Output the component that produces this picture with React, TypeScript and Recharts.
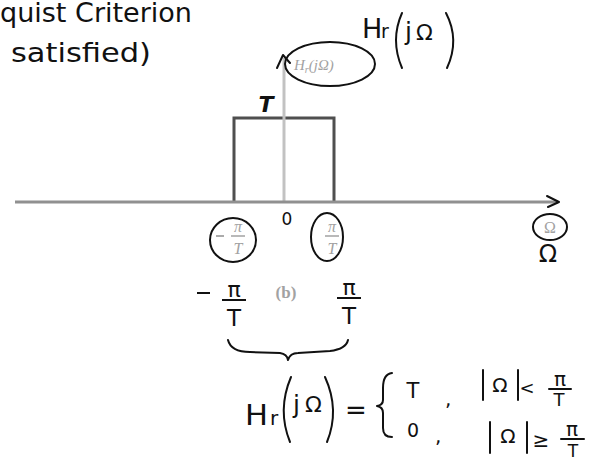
import { ComposedChart, Line, XAxis, YAxis, ReferenceLine } from "recharts"

// Ideal reconstruction filter: frequency in units of π/T, gain in units of T
const omega = [-1, -1, 1, 1]
const gain = [0, 1, 1, 0]
const cutoffTicks = [-1, 0, 1]
const cutoffLabels = ["−π/T", "0", "π/T"]
const freqDomain = [-5.38, 5.48]
const gainDomain = [0, 1.714]

const data = omega.map((w, i) => ({ omega: w, gain: gain[i] }))

const hand = "'DejaVu Sans', sans-serif"
const print = "'Liberation Serif', serif"
const ink = "#111"
const faint = "#a2a2a2"

// printed fraction (grey) inside a hand-drawn circle, plus the hand-written copy below
function CutoffTick({ x, y, payload, index }: any) {
  const label = cutoffLabels[index] ?? String(payload.value)
  if (payload.value === 0) {
    return (
      <text x={x + 3} y={y + 23} textAnchor="middle" fontFamily={hand} fontSize={17} fill={ink}>
        {label}
      </text>
    )
  }
  const neg = label.startsWith("−")
  const [num, den] = label.replace("−", "").split("/")
  const c = neg ? { ex: -1, ey: 38, rx: 23, ry: 22, fx: 4, hx: 0, hy: 0 } : { ex: -7, ey: 35, rx: 16, ry: 24, fx: -2, hx: 15, hy: -2 }
  return (
    <g>
      <ellipse cx={x + c.ex} cy={y + c.ey} rx={c.rx} ry={c.ry} fill="none" stroke={ink} strokeWidth={2} />
      {neg && <line x1={x - 18} x2={x - 10} y1={y + 34} y2={y + 34} stroke={faint} strokeWidth={1.8} />}
      <text x={x + c.fx} y={y + 30} textAnchor="middle" fontFamily={print} fontStyle="italic" fontSize={16} fill={faint}>{num}</text>
      <line x1={x + c.fx - 7} x2={x + c.fx + 7} y1={y + 34} y2={y + 34} stroke={faint} strokeWidth={1.5} />
      <text x={x + c.fx} y={y + 52} textAnchor="middle" fontFamily={print} fontStyle="italic" fontSize={16} fill={faint}>{den}</text>

      {neg && <line x1={x - 37} x2={x - 24} y1={y + 91} y2={y + 91} stroke={ink} strokeWidth={2} />}
      <text x={x + c.hx} y={y + 95 + c.hy} textAnchor="middle" fontFamily={hand} fontSize={22} fill={ink}>{num}</text>
      <line x1={x + c.hx - 12} x2={x + c.hx + 12} y1={y + 98 + c.hy} y2={y + 98 + c.hy} stroke={ink} strokeWidth={2} />
      <text x={x + c.hx} y={y + 124 + c.hy} textAnchor="middle" fontFamily={hand} fontSize={23} fill={ink}>{den}</text>
    </g>
  )
}

function Notes() {
  const t = { fontFamily: hand, fill: ink }
  const s = { fill: "none", stroke: ink, strokeWidth: 2, strokeLinecap: "round" as const, strokeLinejoin: "round" as const }
  return (
    <svg width={594} height={460} style={{ position: "absolute", left: 0, top: 0, pointerEvents: "none" }}>
      <text {...t} x={0} y={22} fontSize={26} textLength={192} lengthAdjust="spacingAndGlyphs">quist Criterion</text>
      <text {...t} x={11} y={62} fontSize={27} textLength={140} lengthAdjust="spacingAndGlyphs">satisfied)</text>

      {/* arrow tip of the gain axis and the circled axis name */}
      <path {...s} d="M277,68 L283,55 L290,63" />
      <ellipse {...s} cx={330} cy={64} rx={45} ry={22} />
      <text x={294} y={70} fontFamily={print} fontStyle="italic" fontSize={15} fill={faint}>
        H<tspan fontSize={10} dy={3}>r</tspan><tspan dy={-3}>(jΩ)</tspan>
      </text>
      <text {...t} x={362} y={38} fontSize={27}>H</text>
      <text {...t} x={381} y={38} fontSize={19}>r</text>
      <path {...s} d="M402,13 Q390,40 402,68" />
      <text {...t} x={405} y={40} fontSize={25}>j</text>
      <text {...t} x={416} y={40} fontSize={22}>Ω</text>
      <path {...s} d="M446,13 Q460,40 447,68" />

      <text x={266} y={112} textAnchor="middle" fontFamily={hand} fontWeight="bold" fontStyle="italic" fontSize={22} fill={ink}>T</text>

      {/* frequency axis arrow and label */}
      <path {...s} d="M547,196 L559,202 L548,207" />
      <ellipse {...s} cx={550} cy={227} rx={17} ry={13} />
      <text x={550} y={233} textAnchor="middle" fontFamily={print} fontSize={16} fill={faint}>Ω</text>
      <text {...t} x={548} y={262} textAnchor="middle" fontSize={24}>Ω</text>

      <text x={286} y={298} textAnchor="middle" fontFamily={print} fontWeight="bold" fontSize={17} fill={faint}>(b)</text>

      {/* pass band brace */}
      <path {...s} d="M228,340 Q231,352 250,352 L280,353 Q287,354 288,360 Q290,353 298,353 L330,351 Q346,349 348,340" />

      {/* definition */}
      <text {...t} x={245} y={425} fontSize={29} textLength={23} lengthAdjust="spacingAndGlyphs">H</text>
      <text {...t} x={270} y={425} fontSize={20}>r</text>
      <path {...s} d="M291,377 Q277,410 290,442" />
      <text {...t} x={293} y={413} fontSize={25}>j</text>
      <text {...t} x={305} y={412} fontSize={22}>Ω</text>
      <path {...s} d="M325,377 Q340,410 327,442" />
      <text {...t} x={345} y={419} fontSize={26}>=</text>
      <path {...s} d="M392,373 Q383,374 383,388 L383,400 Q383,405 377,406 Q383,407 383,413 L383,428 Q383,437 392,437" />
      <text {...t} x={413} y={398} textAnchor="middle" fontSize={21}>T</text>
      <text {...t} x={445} y={406} fontSize={20}>,</text>
      <text {...t} x={413} y={437} textAnchor="middle" fontSize={19}>0</text>
      <text {...t} x={435} y={443} fontSize={20}>,</text>

      <line {...s} x1={483} x2={483} y1={370} y2={400} />
      <text {...t} x={500} y={392} textAnchor="middle" fontSize={20}>Ω</text>
      <line {...s} x1={518} x2={518} y1={370} y2={400} />
      <text {...t} x={527} y={394} textAnchor="middle" fontSize={18}>&lt;</text>
      <text {...t} x={560} y={386} textAnchor="middle" fontSize={20}>π</text>
      <line {...s} x1={549} x2={571} y1={389} y2={389} />
      <text {...t} x={559} y={406} textAnchor="middle" fontSize={18}>T</text>

      <line {...s} x1={490} x2={490} y1={422} y2={453} />
      <text {...t} x={508} y={443} textAnchor="middle" fontSize={20}>Ω</text>
      <line {...s} x1={527} x2={527} y1={422} y2={453} />
      <text {...t} x={541} y={447} textAnchor="middle" fontSize={20}>≥</text>
      <text {...t} x={572} y={436} textAnchor="middle" fontSize={20}>π</text>
      <line {...s} x1={561} x2={584} y1={439} y2={439} />
      <text {...t} x={573} y={457} textAnchor="middle" fontSize={17}>T</text>
    </svg>
  )
}

export default function App() {
  return (
    <div style={{ position: "absolute", left: 0, top: 0, width: 594, height: 460, background: "#fff" }}>
      <ComposedChart width={594} height={460} data={data} margin={{ top: 58, right: 36, bottom: 228, left: 15 }}>
        <XAxis
          type="number"
          dataKey="omega"
          domain={freqDomain}
          allowDataOverflow
          ticks={cutoffTicks}
          interval={0}
          tickLine={false}
          tickSize={0}
          tickMargin={0}
          height={30}
          axisLine={{ stroke: "#909090", strokeWidth: 3 }}
          tick={(p: any) => <CutoffTick {...p} />}
        />
        <YAxis type="number" domain={gainDomain} allowDataOverflow hide />
        <Line
          type="linear"
          dataKey="gain"
          stroke="#4f4f4f"
          strokeWidth={3}
          strokeLinejoin="miter"
          dot={false}
          activeDot={false}
          isAnimationActive={false}
        />
        <ReferenceLine x={0} stroke="#c2c2c2" strokeWidth={3} />
      </ComposedChart>
      <Notes />
    </div>
  )
}
